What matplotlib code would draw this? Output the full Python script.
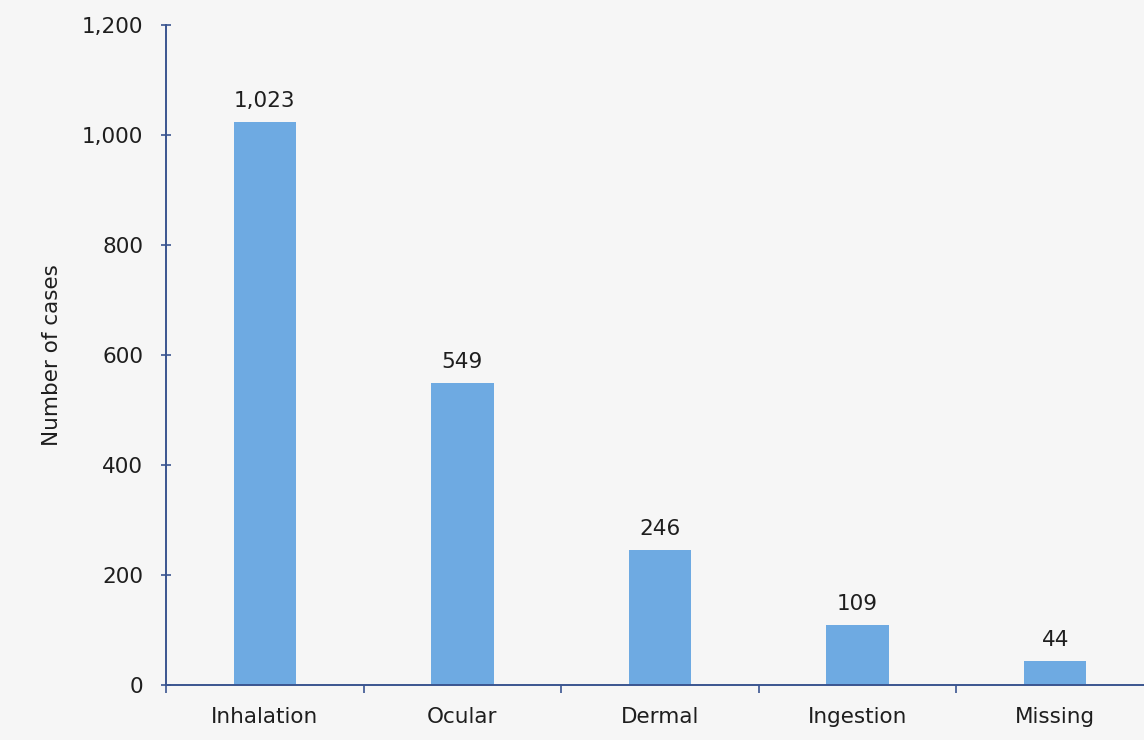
import numpy as np
import matplotlib.pyplot as plt
from matplotlib.ticker import FuncFormatter

# veriler
categories = ['Inhalation', 'Ocular', 'Dermal', 'Ingestion', 'Missing']
cases = [1023, 549, 246, 109, 44]
yticks = [0, 200, 400, 600, 800, 1000, 1200]

bg = '#f6f6f6'
axis_col = '#3a5590'
bar_col = '#6eaae2'
txt = '#1e1e1e'
fs = 15.5

fig = plt.figure(figsize=(11.44, 7.4), dpi=100, facecolor=bg)
ax = fig.add_axes([166/1144, 55/740, 988/1144, 660/740], facecolor=bg)

x = np.arange(len(categories))
bars = ax.bar(x, cases, width=0.315, color=bar_col, zorder=2)

for xi, v in zip(x, cases):
    ax.annotate(f'{v:,}', (xi, v), xytext=(0, 8), textcoords='offset points',
                ha='center', va='bottom', fontsize=fs, color=txt)

ax.set_xlim(-0.5, 4.5)
ax.set_ylim(0, 1200)
ax.set_yticks(yticks)
ax.yaxis.set_major_formatter(FuncFormatter(lambda v, p: f'{int(v):,}'))
ax.tick_params(axis='y', direction='inout', length=7, width=1.2, color=axis_col,
               labelsize=fs, labelcolor=txt, pad=13)

# kategori sınırlarında tikler
ax.set_xticks(x)
ax.set_xticklabels(categories)
ax.set_xticks(np.arange(-0.5, 5.0, 1.0), minor=True)
ax.tick_params(axis='x', which='major', length=0, labelsize=fs, labelcolor=txt, pad=16)
ax.tick_params(axis='x', which='minor', direction='out', length=6, width=1.2, color=axis_col)

for s in ['top', 'right']:
    ax.spines[s].set_visible(False)
for s in ['left', 'bottom']:
    ax.spines[s].set_color(axis_col)
    ax.spines[s].set_linewidth(1.4)

ax.set_ylabel('Number of cases', fontsize=fs, color=txt, labelpad=14)

fig.savefig('out.png', dpi=100, facecolor=bg)
